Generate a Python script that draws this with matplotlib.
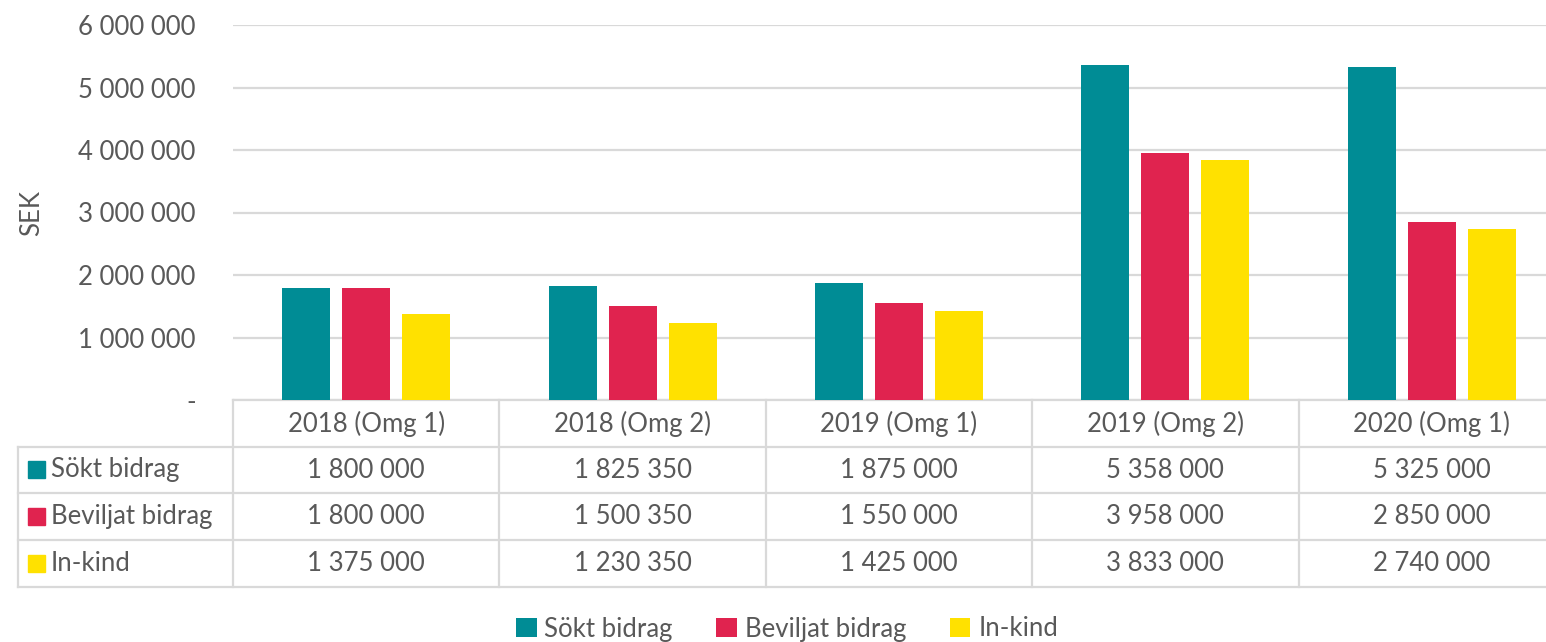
import matplotlib.pyplot as plt
from matplotlib.patches import Rectangle
from matplotlib.ticker import FuncFormatter

plt.rcParams['font.family'] = ['Lato', 'DejaVu Sans']

categories = ['2018 (Omg 1)', '2018 (Omg 2)', '2019 (Omg 1)', '2019 (Omg 2)', '2020 (Omg 1)']
sokt = [1800000, 1825350, 1875000, 5358000, 5325000]
beviljat = [1800000, 1500350, 1550000, 3958000, 2850000]
inkind = [1375000, 1230350, 1425000, 3833000, 2740000]
series_names = ['Sökt bidrag', 'Beviljat bidrag', 'In-kind']
colors = ['#008C95', '#E0234F', '#FFE100']
series = [sokt, beviljat, inkind]

txt = '#595959'
gridc = '#D9D9D9'
fs = 18.5
W, H = 1546, 642


def fmt(v):
    if v == 0:
        return '-'
    return f'{int(v):,}'.replace(',', ' ')


fig = plt.figure(figsize=(W / 100, H / 100), dpi=100)
# plot area in pixels: x 233..1565, y 25..400
ax = fig.add_axes([233 / W, 1 - 400 / H, (1565 - 233) / W, 375 / H])

x = range(len(categories))
bw = 0.18
offs = [-0.225, 0, 0.225]
for s, vals, c, o in zip(series_names, series, colors, offs):
    ax.bar([i + o for i in x], vals, width=bw, color=c, label=s, zorder=3)

ax.set_xlim(-0.5, len(categories) - 0.5)
ax.set_ylim(0, 6000000)
ax.set_yticks(range(0, 6000001, 1000000))
ax.yaxis.set_major_formatter(FuncFormatter(lambda v, p: fmt(v)))
ax.tick_params(axis='y', length=0, pad=27, labelsize=fs, labelcolor=txt)
ax.set_xticks([])
ax.grid(axis='y', color=gridc, lw=1.6, zorder=0)
for sp in ['top', 'right', 'left']:
    ax.spines[sp].set_visible(False)
ax.spines['bottom'].set_color(gridc)
ax.spines['bottom'].set_linewidth(1.6)
ax.set_ylabel('SEK', fontsize=fs, color=txt)
ax.yaxis.set_label_coords((44 - 233) / 1332, 0.5)


# data table below the axes, drawn in figure pixel coordinates
def fx(px):
    return px / W


def fy(py):
    return 1 - py / H


rows = [400, 447, 493, 540, 587]
cols = [233 + i * 266.4 for i in range(len(categories) + 1)]
lkw = dict(color=gridc, lw=1.6, transform=fig.transFigure, clip_on=False)
for r in rows[1:]:
    fig.add_artist(plt.Line2D([fx(18), fx(1565)], [fy(r), fy(r)], **lkw))
for cx in cols:
    fig.add_artist(plt.Line2D([fx(cx), fx(cx)], [fy(400), fy(587)], **lkw))
fig.add_artist(plt.Line2D([fx(18), fx(18)], [fy(447), fy(587)], **lkw))

for i, cat in enumerate(categories):
    cx = (cols[i] + cols[i + 1]) / 2
    fig.text(fx(cx), fy((rows[0] + rows[1]) / 2), cat, ha='center', va='center',
             fontsize=fs, color=txt)
    for j, vals in enumerate(series):
        fig.text(fx(cx), fy((rows[j + 1] + rows[j + 2]) / 2), fmt(vals[i]),
                 ha='center', va='center', fontsize=fs, color=txt)

for j, (s, c) in enumerate(zip(series_names, colors)):
    yc = (rows[j + 1] + rows[j + 2]) / 2
    fig.add_artist(Rectangle((fx(28), fy(yc + 8)), 17 / W, 17 / H, color=c,
                             transform=fig.transFigure))
    fig.text(fx(51), fy(yc), s, ha='left', va='center', fontsize=fs, color=txt)

handles, labels = ax.get_legend_handles_labels()
fig.legend(handles, labels, loc='center', bbox_to_anchor=(787 / W, fy(629)), ncol=3,
           frameon=False, fontsize=fs, labelcolor=txt, handlelength=0.8,
           handleheight=0.8, handletextpad=0.3, columnspacing=1.7)

fig.savefig('out.png', dpi=100)
